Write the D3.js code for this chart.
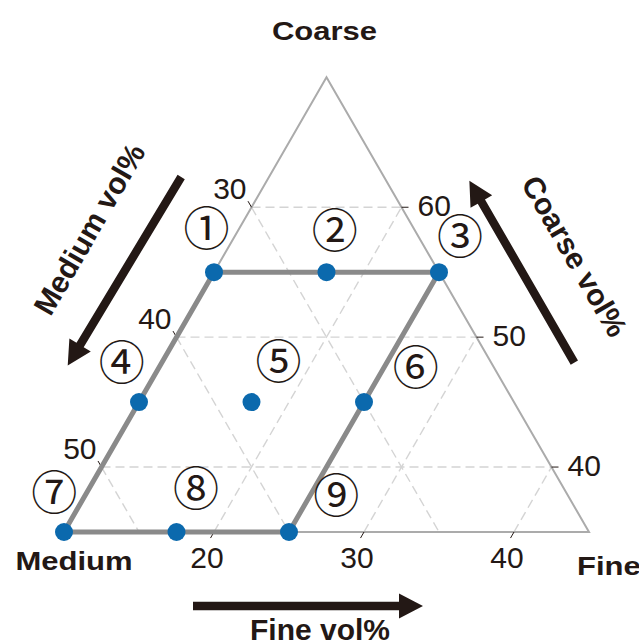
<!DOCTYPE html>
<html>
<head>
<meta charset="utf-8">
<script src="https://cdn.jsdelivr.net/npm/d3@7"></script>
<style>
  html, body { margin: 0; padding: 0; background: #fff; }
  svg { display: block; }
  text { font-family: "Liberation Sans", Arial, Helvetica, sans-serif; fill: #231815; }
</style>
</head>
<body>
<svg id="chart" width="639" height="641"></svg>
<script>
// Ternary window: Coarse 35–70, Fine 10–45, Medium 20–55 (vol%)
const coarseRange = [35, 70];
const fineRange = [10, 45];
const mediumMin = 20;

const coarseTicks = [60, 50, 40];
const mediumTicks = [30, 40, 50];
const fineTicks = [20, 30, 40];

// Measured mixtures (vol%)
const sampleCoarse = [55, 55, 55, 45, 45, 45, 35, 35, 35];
const sampleFine   = [10, 17.5, 25, 10, 17.5, 25, 10, 17.5, 25];
const sampleMedium = [35, 27.5, 20, 45, 37.5, 30, 55, 47.5, 40];

// Outline of the tested composition region (corners)
const envelopeCoarse = [55, 55, 35, 35];
const envelopeFine   = [10, 25, 25, 10];

// Region numbers and where they sit (coarse, fine)
const regionNames  = ["①", "②", "③", "④", "⑤", "⑥", "⑦", "⑧", "⑨"];
const regionCoarse = [58.6, 58.5, 58.0, 48.3, 48.4, 47.9, 38.3, 38.6, 38.1];
const regionFine   = [7.7, 16.3, 24.9, 7.2, 17.6, 27.0, 7.7, 17.0, 26.6];

const svg = d3.select("#chart");
const ink = "#231815";

const x0 = 64, y0 = 532, side = 525;
const height = side * Math.sqrt(3) / 2;

const coarseScale = d3.scaleLinear().domain(coarseRange).range([0, 1]);
const fineScale = d3.scaleLinear().domain(fineRange).range([0, side]);

function proj(c, f) {
  const cf = coarseScale(c);
  return [x0 + fineScale(f) + cf * side / 2, y0 - cf * height];
}
const cTop = proj(70, 10), cMed = proj(35, 10), cFine = proj(35, 45);

const sumAll = coarseRange[1] + fineRange[0] + mediumMin; // 100

// ---- dashed grid ----
const grid = svg.append("g")
  .attr("stroke", "#d4d4d4").attr("stroke-width", 1.4)
  .attr("stroke-dasharray", "9,5").attr("fill", "none");
const line = d3.line();
coarseTicks.forEach(c => {
  grid.append("path").attr("d", line([proj(c, fineRange[0]), proj(c, sumAll - mediumMin - c)]));
});
fineTicks.forEach(f => {
  grid.append("path").attr("d", line([proj(coarseRange[0], f), proj(sumAll - mediumMin - f, f)]));
});
mediumTicks.forEach(m => {
  grid.append("path").attr("d", line([proj(sumAll - m - fineRange[0], fineRange[0]), proj(coarseRange[0], sumAll - m - coarseRange[0])]));
});

// ---- triangle frame ----
svg.append("path")
  .attr("d", line([cMed, cTop, cFine]) + "Z")
  .attr("fill", "none").attr("stroke", "#ababab").attr("stroke-width", 2);

// ---- ticks and tick labels ----
const ticks = svg.append("g").attr("stroke", ink).attr("stroke-width", 1);
const tickLen = 7;
const labelFont = 30;

coarseTicks.forEach(c => {
  const p = proj(c, sumAll - mediumMin - c);
  ticks.append("line").attr("x1", p[0]).attr("y1", p[1]).attr("x2", p[0] + tickLen).attr("y2", p[1]);
  svg.append("text").attr("x", p[0] + 16).attr("y", p[1] + 9)
    .attr("font-size", labelFont).text(c);
});
mediumTicks.forEach(m => {
  const p = proj(sumAll - m - fineRange[0], fineRange[0]);
  ticks.append("line").attr("x1", p[0]).attr("y1", p[1])
    .attr("x2", p[0] - tickLen * 0.5).attr("y2", p[1] - tickLen * 0.866);
  svg.append("text").attr("x", p[0] - 5).attr("y", p[1] - 8)
    .attr("text-anchor", "end").attr("font-size", labelFont).text(m);
});
fineTicks.forEach(f => {
  const p = proj(coarseRange[0], f);
  ticks.append("line").attr("x1", p[0]).attr("y1", p[1])
    .attr("x2", p[0] - tickLen * 0.5).attr("y2", p[1] + tickLen * 0.866);
  svg.append("text").attr("x", p[0] - 7).attr("y", p[1] + 36)
    .attr("text-anchor", "middle").attr("font-size", labelFont).text(f);
});

// ---- tested region outline ----
const envPts = envelopeCoarse.map((c, i) => proj(c, envelopeFine[i]));
svg.append("path")
  .attr("d", line(envPts) + "Z")
  .attr("fill", "none").attr("stroke", "#8a8a8a").attr("stroke-width", 5)
  .attr("stroke-linejoin", "round");

// ---- sample points ----
svg.append("g").selectAll("circle")
  .data(sampleCoarse.map((c, i) => ({ c, f: sampleFine[i], m: sampleMedium[i] })))
  .join("circle")
  .attr("cx", d => proj(d.c, d.f)[0])
  .attr("cy", d => proj(d.c, d.f)[1])
  .attr("r", 9)
  .attr("fill", "#0b69ad");

// ---- region numbers ----
svg.append("g").selectAll("text")
  .data(regionNames.map((n, i) => ({ n, c: regionCoarse[i], f: regionFine[i] })))
  .join("text")
  .attr("x", d => proj(d.c, d.f)[0])
  .attr("y", d => proj(d.c, d.f)[1])
  .attr("text-anchor", "middle")
  .attr("dominant-baseline", "central")
  .style("font-family", '"Noto Sans CJK JP", "DejaVu Sans", sans-serif')
  .attr("font-size", 46)
  .text(d => d.n);

// ---- corner names ----
function cornerLabel(txt, x, y, anchor) {
  svg.append("text")
    .attr("transform", `translate(${x},${y}) scale(1.17,1)`)
    .attr("text-anchor", anchor)
    .attr("font-weight", "bold").attr("font-size", 26.5)
    .text(txt);
}
cornerLabel("Coarse", cTop[0] - 2, cTop[1] - 37, "middle");
cornerLabel("Medium", cMed[0] + 10, cMed[1] + 38, "middle");
cornerLabel("Fine", cFine[0] - 12, cFine[1] + 43, "start");

// ---- direction arrows with axis titles ----
function edgeFrame(A, B, normal) {
  const len = Math.hypot(B[0] - A[0], B[1] - A[1]);
  const u = [(B[0] - A[0]) / len, (B[1] - A[1]) / len];
  return (along, off) => [A[0] + u[0] * along + normal[0] * off, A[1] + u[1] * along + normal[1] * off];
}
const leftEdge = edgeFrame(cMed, cTop, [-0.866, -0.5]);
const rightEdge = edgeFrame(cFine, cTop, [0.866, -0.5]);
const bottomEdge = edgeFrame(cMed, cFine, [0, 1]);

function arrow(tail, tip) {
  const dx = tip[0] - tail[0], dy = tip[1] - tail[1];
  const L = Math.hypot(dx, dy);
  const ux = dx / L, uy = dy / L, px = -uy, py = ux;
  const w = 4.2, hl = 24, hw = 12.5;
  const bx = tip[0] - ux * hl, by = tip[1] - uy * hl;
  const pts = [
    [tail[0] + px * w, tail[1] + py * w],
    [bx + px * w, by + py * w],
    [bx + px * hw, by + py * hw],
    tip,
    [bx - px * hw, by - py * hw],
    [bx - px * w, by - py * w],
    [tail[0] - px * w, tail[1] - py * w]
  ];
  svg.append("path").attr("d", line(pts) + "Z").attr("fill", ink);
}
arrow(leftEdge(366, 76), leftEdge(146, 80));
arrow(rightEdge(154, 72), rightEdge(364, 72));
arrow(bottomEdge(129, 74), bottomEdge(359, 74));

function axisTitle(txt, p, angle) {
  svg.append("text")
    .attr("transform", `translate(${p[0]},${p[1]}) rotate(${angle})`)
    .attr("text-anchor", "middle")
    .attr("font-weight", "bold").attr("font-size", 30)
    .text(txt);
}
axisTitle("Medium vol%", leftEdge(275, 119), -60);
axisTitle("Coarse vol%", rightEdge(246, 115), 60);
axisTitle("Fine vol%", bottomEdge(256, 108), 0);
</script>
</body>
</html>
